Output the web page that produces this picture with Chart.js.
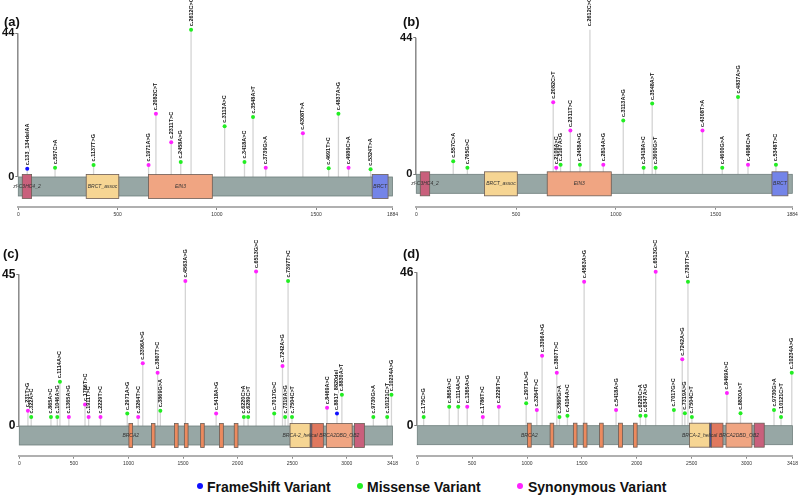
<!DOCTYPE html>
<html>
<head>
<meta charset="utf-8">
<script src="https://cdn.jsdelivr.net/npm/chart.js@4.4.1/dist/chart.umd.min.js"></script>
<style>
  body { margin: 0; background: #fff; width: 800px; height: 497px; overflow: hidden; position: relative; font-family: "Liberation Sans", Arial, sans-serif; }
  canvas { position: absolute; }
  .dot { position: absolute; width: 6px; height: 6px; border-radius: 50%; top: 482.5px; }
  .lg { position: absolute; top: 478px; font-size: 14px; line-height: 18px; font-weight: bold; color: #111; white-space: nowrap; }
</style>
</head>
<body>
<canvas id="pa" width="400" height="225" style="left:0;top:0"></canvas>
<canvas id="pb" width="400" height="225" style="left:400px;top:0"></canvas>
<canvas id="pc" width="400" height="245" style="left:0;top:225px"></canvas>
<canvas id="pd" width="400" height="245" style="left:400px;top:225px"></canvas>

<div class="dot" style="left:197px;background:#1010ff"></div><div class="lg" style="left:207px">FrameShift Variant</div>
<div class="dot" style="left:357px;background:#22ee22"></div><div class="lg" style="left:367px">Missense Variant</div>
<div class="dot" style="left:517px;background:#ff22ff"></div><div class="lg" style="left:528px">Synonymous Variant</div>

<script>
// BRCA1 (panels a, b)
const brca1Len = 1884;
const brca1Ticks = [0, 500, 1000, 1500, 1884];
const brca1DomStart = [20, 342, 656, 1782];
const brca1DomEnd = [67, 506, 977, 1862];
const brca1DomName = ["zf-C3HC4_2", "BRCT_assoc", "EIN3", "BRCT"];

const labelsA = ["c.133_134delAA", "c.557C>A", "c.1137T>G", "c.1971A>G", "c.2082C>T", "c.2311T>C", "c.2458A>G", "c.2612C>G", "c.3113A>C", "c.3418A>C", "c.3548A>T", "c.3739G>A", "c.4308T>A", "c.4691T>C", "c.4837A>G", "c.4989C>A", "c.5324T>A"];
const posA = [45, 185, 379, 656, 693, 770, 818, 870, 1039, 1139, 1182, 1246, 1433, 1563, 1612, 1663, 1774];
const countA = [2.5, 2.8, 3.7, 3.7, 19.4, 10.6, 4.6, 45.1, 15.5, 4.6, 18.4, 2.8, 13.4, 2.7, 19.4, 2.8, 2.4];
const typeA = ["F", "M", "M", "S", "S", "S", "M", "M", "M", "M", "M", "S", "S", "M", "M", "S", "M"];

const labelsB = ["c.557C>A", "c.765G>C", "c.2082C>T", "c.2108A>C", "c.2167A>G", "c.2311T>C", "c.2458A>G", "c.2612C>G", "c.2814A>G", "c.3113A>G", "c.3418A>C", "c.3548A>T", "c.3600G>T", "c.4308T>A", "c.4600G>A", "c.4837A>G", "c.4986C>A", "c.5348T>C"];
const posB = [185, 256, 686, 701, 723, 772, 820, 870, 937, 1037, 1139, 1182, 1199, 1434, 1533, 1612, 1662, 1802];
const countB = [4.2, 2.1, 23.2, 2.1, 3.1, 14.1, 3.1, 46.6, 3.1, 17.3, 2.1, 22.8, 2.1, 14.1, 2.1, 24.9, 3.1, 3.1];
const typeB = ["M", "M", "S", "S", "M", "S", "M", "M", "S", "M", "M", "M", "M", "S", "M", "M", "S", "M"];

// BRCA2 (panels c, d)
const brca2Len = 3418;
const brca2Ticks = [0, 500, 1000, 1500, 2000, 2500, 3000, 3418];
const brca2DomStart = [1004, 1210, 1422, 1512, 1661, 1833, 1969, 2480, 2666, 2680, 2813, 3070];
const brca2DomEnd = [1038, 1243, 1455, 1546, 1694, 1869, 2003, 2664, 2680, 2785, 3049, 3161];
const brca2DomName = ["BRCA2", "", "", "", "", "", "", "BRCA-2_helical", "", "", "BRCA2DBD_OB2", ""];

const labelsC = ["c.231T>G", "c.322A>C", "c.865A>C", "c.1046A>G", "c.1114A>C", "c.1365A>G", "c.1786T>C", "c.1911T>C", "c.2229T>C", "c.2971A>G", "c.3264T>C", "c.3396A>G", "c.3807T>C", "c.3869G>A", "c.4563A>G", "c.5418A>G", "c.6220C>A", "c.6289C>T", "c.6513G>C", "c.7017G>C", "c.7242A>G", "c.7319A>G", "c.7397T>C", "c.7504C>T", "c.8469A>C", "c.8817_8820del", "c.8830A>T", "c.9730G>A", "c.10121C>T", "c.10234A>G"];
const posC = [79, 109, 290, 348, 372, 454, 602, 635, 744, 989, 1089, 1131, 1267, 1292, 1521, 1803, 2057, 2096, 2169, 2335, 2411, 2435, 2462, 2498, 2819, 2910, 2955, 3243, 3370, 3409];
const countC = [4.5, 2.7, 2.7, 2.7, 13.1, 2.7, 6.4, 2.7, 2.7, 3.7, 2.7, 18.6, 15.8, 4.5, 43.0, 3.7, 2.7, 2.7, 45.8, 3.7, 17.8, 2.7, 43.0, 2.7, 5.4, 3.7, 9.3, 2.7, 2.7, 9.3];
const typeC = ["S", "M", "M", "M", "M", "S", "S", "S", "S", "M", "S", "S", "S", "M", "S", "S", "M", "M", "S", "M", "S", "M", "M", "M", "S", "F", "M", "M", "M", "M"];

const labelsD = ["c.175C>G", "c.865A>C", "c.1114A>C", "c.1365A>G", "c.1786T>C", "c.2229T>C", "c.2971A>G", "c.3264T>C", "c.3396A>G", "c.3807T>C", "c.3869G>A", "c.4104A>C", "c.4563A>G", "c.5418A>G", "c.6220C>A", "c.6347A>G", "c.6513G>C", "c.7017G>C", "c.7242A>G", "c.7319A>G", "c.7397T>C", "c.7504C>T", "c.8469A>C", "c.8830A>T", "c.9730G>A", "c.10121C>T", "c.10234A>G"];
const posD = [58, 291, 373, 455, 597, 743, 992, 1089, 1137, 1271, 1295, 1368, 1520, 1811, 2032, 2081, 2172, 2338, 2414, 2438, 2466, 2502, 2821, 2945, 3250, 3314, 3412];
const countD = [2.6, 5.7, 5.7, 5.7, 2.6, 5.7, 6.7, 4.7, 21.0, 15.9, 2.6, 3.0, 43.2, 4.7, 3.0, 3.0, 46.2, 4.7, 19.9, 3.7, 43.2, 2.6, 9.8, 3.7, 4.7, 2.6, 15.9];
const typeD = ["M", "M", "M", "S", "S", "S", "M", "S", "S", "S", "M", "M", "S", "S", "M", "M", "S", "M", "S", "M", "M", "M", "S", "M", "M", "M", "M"];

const typeColor = { F: "#1010ff", M: "#22ee22", S: "#ff22ff" };
const brca1DomColor = ["#c9607c", "#f6d593", "#f0a582", "#7484e8"];
const brca2DomColor = ["#ec8a5e", "#ec8a5e", "#ec8a5e", "#ec8a5e", "#ec8a5e", "#ec8a5e", "#ec8a5e", "#f6d593", "#4050b0", "#e0785e", "#f0a582", "#c9607c"];

const FONT = '"Liberation Sans", Arial, sans-serif';
const BAR_H = 19, BOX_PAD = 2.5;

function panel(id, o) {
  const lolli = {
    id: "lolli",
    beforeDatasetsDraw(chart) {
      const { ctx, chartArea } = chart;
      const x = chart.scales.x, y = chart.scales.y;
      const y0 = y.getPixelForValue(0);
      ctx.save();
      // short y axis line, 0 .. max
      ctx.strokeStyle = "#888";
      ctx.lineWidth = 1.5;
      ctx.beginPath();
      ctx.moveTo(chartArea.left - 0.5, y0);
      ctx.lineTo(chartArea.left - 0.5, y.getPixelForValue(o.ymax));
      ctx.stroke();
      // stems
      ctx.strokeStyle = "#d4d4d4";
      ctx.lineWidth = 1.3;
      o.pos.forEach((p, i) => {
        const px = x.getPixelForValue(p);
        ctx.beginPath();
        ctx.moveTo(px, y0);
        ctx.lineTo(px, y.getPixelForValue(o.counts[i]));
        ctx.stroke();
      });
      // protein backbone
      const xl = x.getPixelForValue(0), xr = x.getPixelForValue(o.len);
      ctx.fillStyle = "#97a7a5";
      ctx.strokeStyle = "#6e7e7c";
      ctx.lineWidth = 0.8;
      ctx.fillRect(xl, y0, xr - xl, BAR_H);
      ctx.strokeRect(xl, y0, xr - xl, BAR_H);
      // domains
      ctx.strokeStyle = "#6d5d55";
      o.domStart.forEach((s, i) => {
        const a = x.getPixelForValue(s), b = x.getPixelForValue(o.domEnd[i]);
        ctx.fillStyle = o.domColor[i];
        ctx.fillRect(a, y0 - BOX_PAD, b - a, BAR_H + 2 * BOX_PAD);
        ctx.strokeRect(a, y0 - BOX_PAD, b - a, BAR_H + 2 * BOX_PAD);
      });
      ctx.fillStyle = "#333";
      ctx.font = "italic 5px " + FONT;
      ctx.textAlign = "center";
      ctx.textBaseline = "middle";
      o.domName.forEach((n, i) => {
        if (!n) return;
        const c = x.getPixelForValue((o.domStart[i] + o.domEnd[i]) / 2);
        ctx.fillText(n, c, y0 + BAR_H / 2);
      });
      ctx.restore();
    },
    afterDatasetsDraw(chart) {
      const { ctx } = chart;
      const x = chart.scales.x, y = chart.scales.y;
      ctx.save();
      ctx.fillStyle = "#111";
      ctx.font = "bold 5.5px " + FONT;
      ctx.textAlign = "left";
      ctx.textBaseline = "middle";
      o.labels.forEach((t, i) => {
        ctx.save();
        ctx.translate(x.getPixelForValue(o.pos[i]), y.getPixelForValue(o.counts[i]) - 3.5);
        ctx.rotate(-Math.PI / 2);
        ctx.fillText(t, 0, 0);
        ctx.restore();
      });
      ctx.font = "bold 13px " + FONT;
      ctx.fillStyle = "#111";
      ctx.fillText(o.tag, o.tagX, o.tagY);
      ctx.restore();
    }
  };

  new Chart(document.getElementById(id), {
    type: "scatter",
    data: {
      datasets: [{
        data: o.pos.map((p, i) => ({ x: p, y: o.counts[i] })),
        pointBackgroundColor: o.types.map((t) => typeColor[t]),
        pointBorderWidth: 0,
        pointRadius: 2,
        clip: false
      }]
    },
    options: {
      responsive: false,
      animation: false,
      events: [],
      layout: { padding: { top: o.top, right: o.right, left: 0, bottom: 0 } },
      plugins: { legend: { display: false }, tooltip: { enabled: false } },
      scales: {
        x: {
          type: "linear",
          min: 0,
          max: o.len,
          afterBuildTicks: (a) => { a.ticks = o.xTicks.map((v) => ({ value: v })); },
          afterFit: (a) => { a.height = o.xh; },
          border: { color: "#b0b0b0", width: 2 },
          grid: { drawOnChartArea: false, tickLength: 3, color: "#888" },
          ticks: { font: { size: 5, family: FONT }, color: "#333", padding: 2, maxRotation: 0, autoSkip: false, callback: (v) => String(v) }
        },
        y: {
          min: o.ymin,
          max: o.ymax,
          afterBuildTicks: (a) => { a.ticks = [{ value: 0 }, { value: o.ymax }]; },
          afterFit: (a) => { a.width = o.yw; },
          border: { display: false },
          grid: { drawOnChartArea: false, tickLength: 3, color: "#777" },
          ticks: { font: { size: o.yFont, weight: "bold", family: FONT }, color: "#111", padding: 1, callback: (v) => String(v) }
        }
      }
    },
    plugins: [lolli]
  });
}

panel("pa", { labels: labelsA, pos: posA, counts: countA, types: typeA, len: brca1Len, xTicks: brca1Ticks,
  domStart: brca1DomStart, domEnd: brca1DomEnd, domName: brca1DomName, domColor: brca1DomColor,
  top: 33.3, right: 6, xh: 18, yw: 18.3, ymin: -9.19, ymax: 44, yFont: 11, tag: "(a)", tagX: 4, tagY: 22 });
panel("pb", { labels: labelsB, pos: posB, counts: countB, types: typeB, len: brca1Len, xTicks: brca1Ticks,
  domStart: brca1DomStart, domEnd: brca1DomEnd, domName: brca1DomName, domColor: brca1DomColor,
  top: 37.7, right: 7.7, xh: 18.3, yw: 16.3, ymin: -10.43, ymax: 44, yFont: 11, tag: "(b)", tagX: 3, tagY: 22 });
panel("pc", { labels: labelsC, pos: posC, counts: countC, types: typeC, len: brca2Len, xTicks: brca2Ticks,
  domStart: brca2DomStart, domEnd: brca2DomEnd, domName: brca2DomName, domColor: brca2DomColor,
  top: 49.3, right: 4.7, xh: 14.3, yw: 19.3, ymin: -8.81, ymax: 45, yFont: 12, tag: "(c)", tagX: 3, tagY: 29.5 });
panel("pd", { labels: labelsD, pos: posD, counts: countD, types: typeD, len: brca2Len, xTicks: brca2Ticks,
  domStart: brca2DomStart, domEnd: brca2DomEnd, domName: brca2DomName, domColor: brca2DomColor,
  top: 47.3, right: 6.7, xh: 14.3, yw: 17.3, ymin: -9.0, ymax: 46, yFont: 12, tag: "(d)", tagX: 3, tagY: 29.5 });
</script>
</body>
</html>
